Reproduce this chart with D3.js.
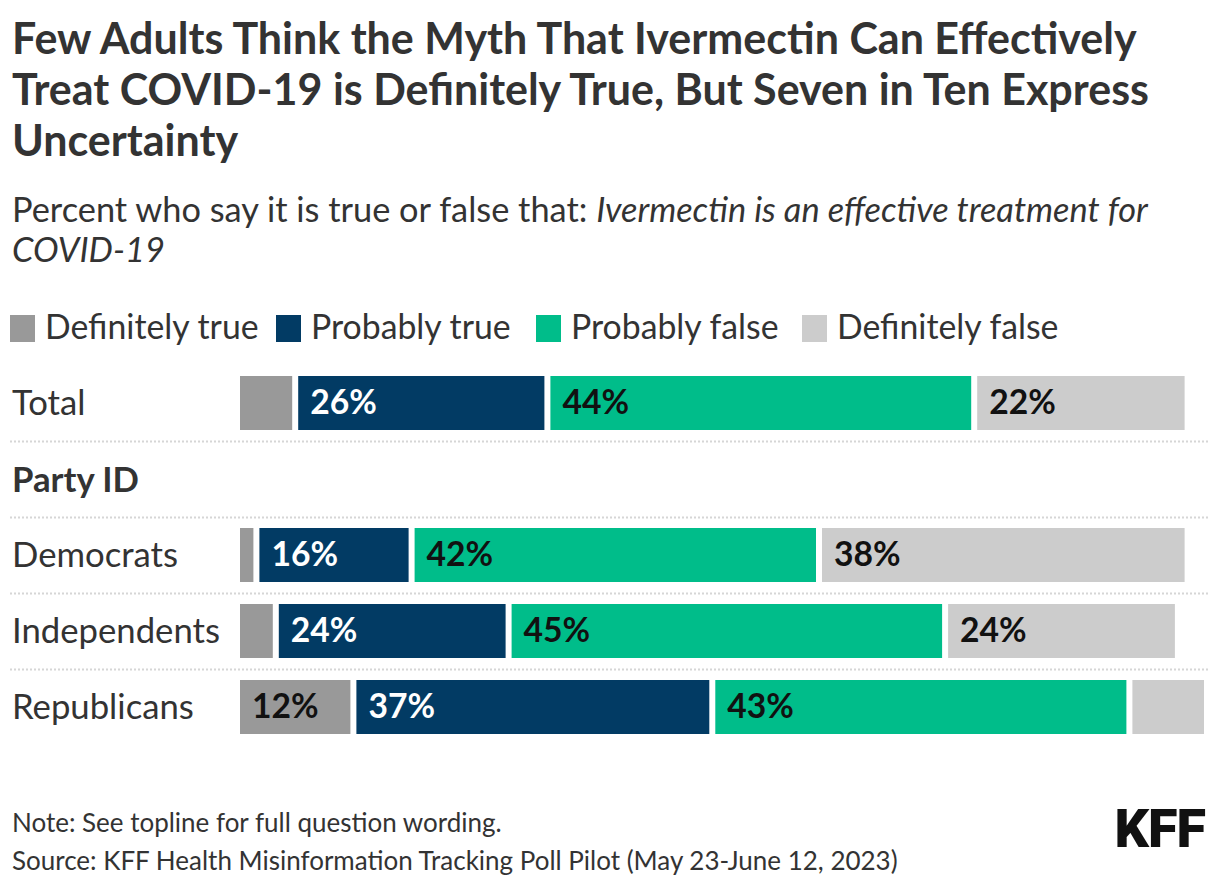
<!DOCTYPE html>
<html>
<head>
<meta charset="utf-8">
<script src="https://cdn.jsdelivr.net/npm/d3@7"></script>
<style>
  body { margin: 0; background: #fff; }
  text { font-family: 'Source Sans Pro', Lato, sans-serif; }
</style>
</head>
<body>
<svg id="chart"></svg>
<script>
// chart values
const responses = ["Definitely true", "Probably true", "Probably false", "Definitely false"];
const rowLabels = ["Total", "Democrats", "Independents", "Republicans"];
const sectionLabel = "Party ID";
const definitelyTrue = [6, 2, 4, 12];
const probablyTrue = [26, 16, 24, 37];
const probablyFalse = [44, 42, 45, 43];
const definitelyFalse = [22, 38, 24, 8];
const colors = ["#999999", "#023b64", "#00bd8a", "#cccccc"];
const labelColors = ["#111", "#fff", "#111", "#111"];

const titleLines = [
    "Few Adults Think the Myth That Ivermectin Can Effectively",
    "Treat COVID-19 is Definitely True, But Seven in Ten Express",
    "Uncertainty"
];
const noteText = "Note: See topline for full question wording.";
const sourceText = "Source: KFF Health Misinformation Tracking Poll Pilot (May 23-June 12, 2023)";

const W = 1220, H = 894;
const svg = d3.select("#chart").attr("width", W).attr("height", H);

// scale font size so a text matches a target width
function fitSize(sel, base, target) {
    sel.style("font-size", base + "px");
    const len = sel.node().getComputedTextLength();
    return base * target / len;
}

// title
const tl = svg.append("g").selectAll("text").data(titleLines).enter().append("text")
    .attr("x", 12)
    .attr("y", (d, i) => 54 + i * 51)
    .attr("fill", "#333")
    .style("font-weight", 700)
    .text(d => d);
const titleSize = fitSize(d3.select(tl.nodes()[0]), 40, 1125);
tl.style("font-size", titleSize + "px");

// subtitle
const sub1 = svg.append("text").attr("x", 12).attr("y", 222).attr("fill", "#333");
sub1.append("tspan").text("Percent who say it is true or false that: ");
sub1.append("tspan").style("font-style", "italic").text("Ivermectin is an effective treatment for");
const subSize = fitSize(sub1, 30, 1136);
sub1.style("font-size", subSize + "px");
svg.append("text").attr("x", 12).attr("y", 262).attr("fill", "#333")
    .style("font-style", "italic").style("font-size", subSize + "px")
    .text("COVID-19");

// label font size from "Independents"
const probe = svg.append("text").text("Independents");
const labelSize = fitSize(probe, 30, 208);
probe.remove();

// legend (item positions as in the original layout)
const legendX = [10, 276, 536, 802];
const probe2 = svg.append("text").text(responses.join(""));
const legendSize = fitSize(probe2, 30, 841);
probe2.remove();
const legend = svg.append("g").selectAll("g").data(responses).enter().append("g")
    .attr("transform", (d, i) => `translate(${legendX[i]},0)`);
legend.append("rect").attr("x", 0).attr("y", 315).attr("width", 25).attr("height", 27)
    .attr("fill", (d, i) => colors[i]);
legend.append("text").attr("x", 35).attr("y", 339)
    .attr("fill", "#333").style("font-size", legendSize + "px").text(d => d);

// rows
const slots = ["Total", sectionLabel, "Democrats", "Independents", "Republicans"];
const y = d3.scaleBand().domain(slots).range([365, 365 + 76 * slots.length]);
const x = d3.scaleLinear().domain([0, 100]).range([240, 1210]);
const barH = 54, gap = 6;

// dotted separators
svg.append("g").selectAll("line").data(slots.slice(0, -1)).enter().append("line")
    .attr("x1", 10).attr("x2", 1208)
    .attr("y1", d => y(d) + y.bandwidth() + 0.5)
    .attr("y2", d => y(d) + y.bandwidth() + 0.5)
    .attr("stroke", "#d6d6d6").attr("stroke-width", 2).attr("stroke-dasharray", "2,2");

svg.append("text").attr("x", 12).attr("y", y(sectionLabel) + y.bandwidth() / 2 + 13)
    .attr("fill", "#333").style("font-weight", 700).style("font-size", labelSize + "px")
    .text(sectionLabel);

const series = [definitelyTrue, probablyTrue, probablyFalse, definitelyFalse];
const rows = rowLabels.map((name, i) => {
    let cum = 0;
    const segs = series.map((s, k) => {
        const seg = { k: k, v: s[i], x0: cum, x1: cum + s[i] };
        cum += s[i];
        return seg;
    });
    return { name: name, segs: segs };
});

const rowG = svg.append("g").selectAll("g").data(rows).enter().append("g")
    .attr("transform", d => `translate(0,${y(d.name) + 11})`);

rowG.append("text").attr("x", 12).attr("y", barH / 2 + 12)
    .attr("fill", "#333").style("font-size", labelSize + "px")
    .text(d => d.name);

const seg = rowG.selectAll(".seg").data(d => d.segs).enter().append("g").attr("class", "seg");
seg.append("rect")
    .attr("x", d => x(d.x0))
    .attr("y", 0)
    .attr("width", d => x(d.x1) - x(d.x0) - gap)
    .attr("height", barH)
    .attr("fill", d => colors[d.k]);
seg.filter(d => d.v >= 10).append("text")
    .attr("x", d => x(d.x0) + 12)
    .attr("y", barH / 2 + 11)
    .attr("fill", d => labelColors[d.k])
    .style("font-weight", 700)
    .style("font-size", (labelSize * 0.97) + "px")
    .text(d => d.v + "%");

// footer
const note = svg.append("text").attr("x", 12).attr("y", 832).attr("fill", "#333").text(noteText);
const src = svg.append("text").attr("x", 12).attr("y", 870).attr("fill", "#333").text(sourceText);
const footSize = fitSize(src, 23, 886);
note.style("font-size", footSize + "px");
src.style("font-size", footSize + "px");

const logo = svg.append("text").attr("x", 1205).attr("y", 847).attr("text-anchor", "end")
    .attr("fill", "#111").style("font-weight", 900).style("font-family", "Roboto, sans-serif")
    .style("letter-spacing", "-1px").text("KFF");
const logoSize = fitSize(logo, 46, 90);
logo.style("font-size", logoSize + "px");
</script>
</body>
</html>
